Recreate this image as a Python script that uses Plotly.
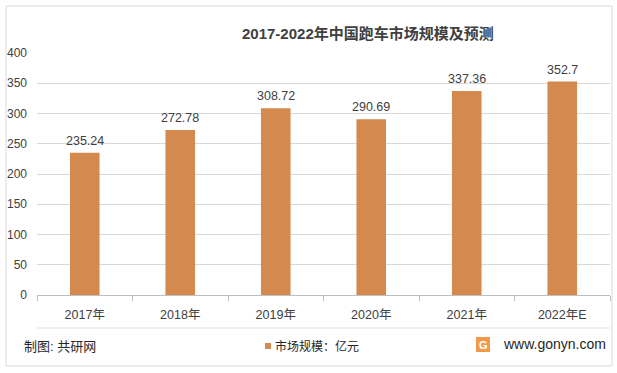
import plotly.graph_objects as go

categories = ["2017年", "2018年", "2019年", "2020年", "2021年", "2022年E"]
values = [235.24, 272.78, 308.72, 290.69, 337.36, 352.7]
value_labels = ["235.24", "272.78", "308.72", "290.69", "337.36", "352.7"]
series_name = "市场规模：亿元"
title_text = "2017-2022年中国跑车市场规模及预测"
y_ticks = [0, 50, 100, 150, 200, 250, 300, 350, 400]

W, H = 617, 373
L, R, T, B = 37, 7, 53, 78
pw = W - L - R
ph = H - T - B

def px(x):
    return (x - L) / pw

def py(y):
    return (H - B - y) / ph

FONT = "Liberation Sans, Noto Sans CJK SC, sans-serif"
BAR = "#D48A4E"

fig = go.Figure()
fig.add_trace(go.Bar(
    x=categories, y=values, name=series_name,
    marker=dict(color=BAR, line=dict(width=0)),
    width=0.31, showlegend=False, hoverinfo="x+y",
))

for c, v, t in zip(categories, values, value_labels):
    fig.add_annotation(x=c, y=v, text=t, xref="x", yref="y", showarrow=False,
                       xanchor="center", yanchor="bottom", yshift=3,
                       font=dict(size=12.5, color="#404040", family=FONT))

fig.update_layout(
    width=W, height=H,
    margin=dict(l=L, r=R, t=T, b=B),
    paper_bgcolor="white", plot_bgcolor="white",
    font=dict(family=FONT, size=12, color="#595959"),
    showlegend=False,
    xaxis=dict(showgrid=False, showline=True, linecolor="#bfbfbf", linewidth=1,
               ticks="outside", tickson="boundaries", ticklen=5, tickcolor="#bfbfbf",
               ticklabelstandoff=8,
               tickfont=dict(size=12.5, color="#404040"), fixedrange=True),
    yaxis=dict(range=[0, 400], tickvals=y_ticks, showgrid=True, gridcolor="#d9d9d9",
               gridwidth=1, zeroline=False, showline=False, ticks="",
               ticklabelstandoff=9, tickfont=dict(size=12, color="#404040"), fixedrange=True),
)

fig.add_annotation(text="<b>" + title_text + "</b>", x=px(368), y=py(33), xref="paper", yref="paper",
                   xanchor="center", yanchor="middle", showarrow=False,
                   font=dict(size=15, color="#404040", family=FONT))

# outer border
fig.add_shape(type="rect", xref="paper", yref="paper", x0=px(6), x1=px(612), y0=py(366), y1=py(6),
              line=dict(color="#d9d9d9", width=1), fillcolor="rgba(0,0,0,0)", layer="below")
# separator line
fig.add_shape(type="line", xref="paper", yref="paper", x0=px(37), x1=px(610), y0=py(328), y1=py(328),
              line=dict(color="#e3e3e3", width=1))

fig.add_annotation(text="制图: 共研网", x=px(22), y=py(346), xref="paper", yref="paper",
                   xanchor="left", yanchor="middle", showarrow=False,
                   font=dict(size=13, color="#262626", family=FONT))
# legend (manual)
fig.add_shape(type="rect", xref="paper", yref="paper", x0=px(265), x1=px(271), y0=py(349), y1=py(343),
              line=dict(width=0), fillcolor=BAR)
fig.add_annotation(text=series_name, x=px(273), y=py(346), xref="paper", yref="paper",
                   xanchor="left", yanchor="middle", showarrow=False,
                   font=dict(size=12, color="#262626", family=FONT))
fig.add_annotation(text="www.gonyn.com", x=px(608), y=py(344), xref="paper", yref="paper",
                   xanchor="right", yanchor="middle", showarrow=False,
                   font=dict(size=14, color="#262626", family=FONT))
# logo
fig.add_shape(type="rect", xref="paper", yref="paper", x0=px(476), x1=px(490), y0=py(352), y1=py(337),
              line=dict(width=0), fillcolor="#F39A4A")
fig.add_annotation(text="<b>G</b>", x=px(483), y=py(344.5), xref="paper", yref="paper",
                   xanchor="center", yanchor="middle", showarrow=False,
                   font=dict(size=11, color="white", family=FONT))

fig.write_html("out.html", config={"displayModeBar": False},
               post_script="document.body.style.margin='0';")
